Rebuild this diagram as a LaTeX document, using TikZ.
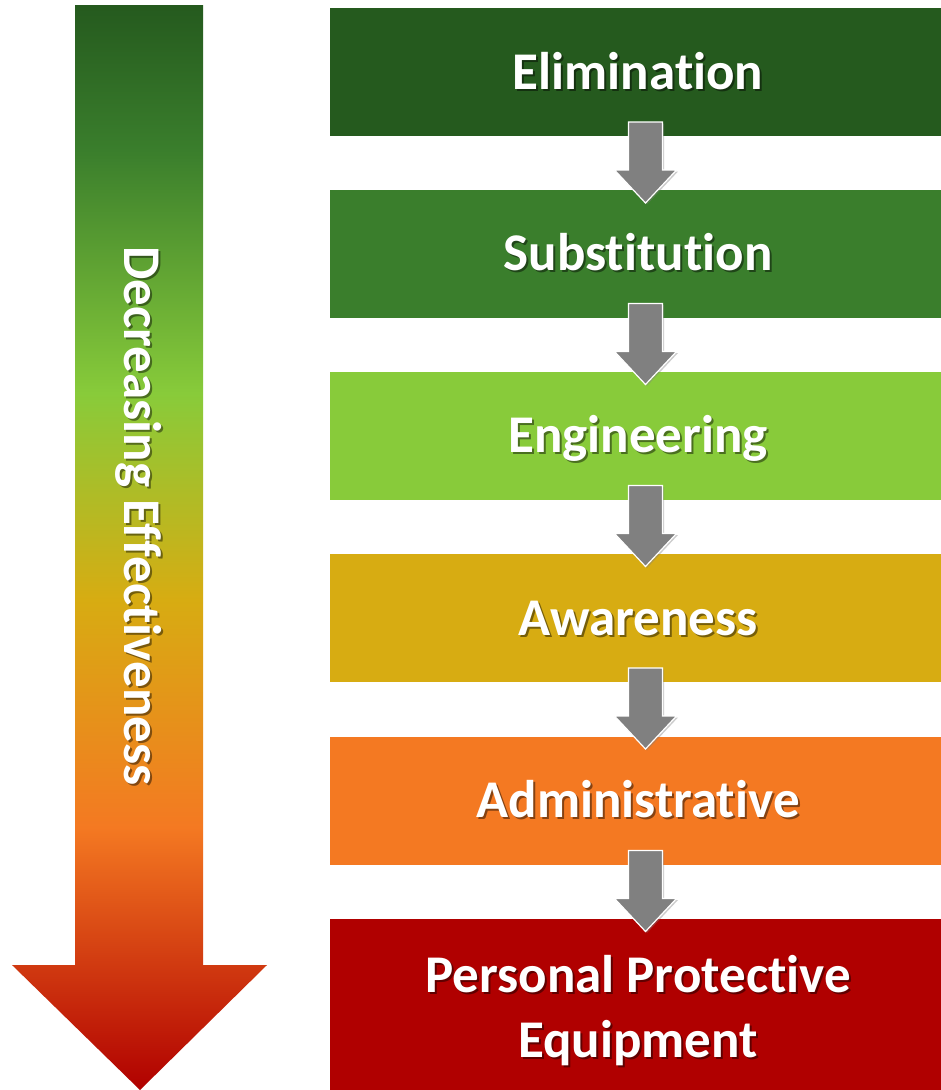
\documentclass[tikz,border=0pt]{standalone}
\usepackage{fontspec}
\setmainfont{Carlito}[Ligatures=NoCommon]
\usetikzlibrary{shadows}
\definecolor{elimgreen}{HTML}{255A1E}
\definecolor{substgreen}{HTML}{3A7E2C}
\definecolor{engingreen}{HTML}{88CB3A}
\definecolor{awareyellow}{HTML}{D7AC12}
\definecolor{adminorange}{HTML}{F47922}
\definecolor{ppered}{HTML}{B00000}
\definecolor{arrowgray}{HTML}{808080}
\pgfdeclareverticalshading{effshade}{100bp}{color(0bp)=(ppered); color(25bp)=(ppered); color(37.1bp)=(adminorange); color(47.6bp)=(awareyellow); color(57.1bp)=(engingreen); color(68.3bp)=(substgreen); color(75bp)=(elimgreen); color(100bp)=(elimgreen)}
\tikzset{
    stage/.style={minimum width=611pt, minimum height=128pt, inner sep=0pt, outer sep=0pt},
    stagetext/.style={text=white, font=\fontsize{53}{63}\selectfont\bfseries, anchor=base, inner sep=0pt},
    textshadow/.style={stagetext, text=black, text opacity=0.45},
    flowarrow/.style={fill=arrowgray, draw=white, line width=1.2pt, drop shadow={opacity=0.4, shadow xshift=1.5pt, shadow yshift=-1.5pt}}
}
\newcommand{\stagelabel}[3]{%
    \node[textshadow] (#1shadow) at ([shift={(2,2)}]#2) {#3};
    \node[stagetext] (#1) at (#2) {#3};
}
\begin{document}
\begin{tikzpicture}[x=1pt, y=-1pt]
    \path[use as bounding box, fill=white] (0,0) rectangle (941,1090);
    \shade[shading=effshade] (75,5) -- (203,5) -- (203,965) -- (267,965) -- (140,1090) -- (12,965) -- (75,965) -- cycle;
    \node[textshadow, rotate=-90, anchor=center] (effshadow) at (141,518) {Decreasing Effectiveness};
    \node[stagetext, rotate=-90, anchor=center] (eff) at (139,516) {Decreasing Effectiveness};
    \node[stage, fill=elimgreen] (elim) at (635.5,72) {};
    \node[stage, fill=substgreen] (subst) at (635.5,253.5) {};
    \node[stage, fill=engingreen] (engin) at (635.5,435.5) {};
    \node[stage, fill=awareyellow] (aware) at (635.5,618) {};
    \node[stage, fill=adminorange] (admin) at (635.5,800.5) {};
    \node[stage, fill=ppered, minimum height=171pt] (ppe) at (635.5,1004.5) {};
    \draw[flowarrow] ([shift={(-7,-14)}]elim.south) -- ++(34,0) -- ++(0,48) -- ++(14,0) -- ++(-31,33) -- ++(-31,-33) -- ++(14,0) -- cycle;
    \draw[flowarrow] ([shift={(-7,-14)}]subst.south) -- ++(34,0) -- ++(0,48) -- ++(14,0) -- ++(-31,33) -- ++(-31,-33) -- ++(14,0) -- cycle;
    \draw[flowarrow] ([shift={(-7,-14)}]engin.south) -- ++(34,0) -- ++(0,48) -- ++(14,0) -- ++(-31,33) -- ++(-31,-33) -- ++(14,0) -- cycle;
    \draw[flowarrow] ([shift={(-7,-14)}]aware.south) -- ++(34,0) -- ++(0,48) -- ++(14,0) -- ++(-31,33) -- ++(-31,-33) -- ++(14,0) -- cycle;
    \draw[flowarrow] ([shift={(-7,-14)}]admin.south) -- ++(34,0) -- ++(0,48) -- ++(14,0) -- ++(-31,33) -- ++(-31,-33) -- ++(14,0) -- cycle;
    \coordinate (elimtxt) at ([shift={(2.5,17)}]elim.center);
    \coordinate (substtxt) at ([shift={(2.5,17)}]subst.center);
    \coordinate (engintxt) at ([shift={(2.5,17)}]engin.center);
    \coordinate (awaretxt) at ([shift={(2.5,17)}]aware.center);
    \coordinate (admintxt) at ([shift={(2.5,17)}]admin.center);
    \coordinate (ppetxt) at (638,992);
    \coordinate (equiptxt) at (638,1057);
    \stagelabel{elimlabel}{elimtxt}{Elimination}
    \stagelabel{substlabel}{substtxt}{Substitution}
    \stagelabel{enginlabel}{engintxt}{Engineering}
    \stagelabel{awarelabel}{awaretxt}{Awareness}
    \stagelabel{adminlabel}{admintxt}{Administrative}
    \stagelabel{ppelabel}{ppetxt}{Personal Protective}
    \stagelabel{equiplabel}{equiptxt}{Equipment}
\end{tikzpicture}
\end{document}
